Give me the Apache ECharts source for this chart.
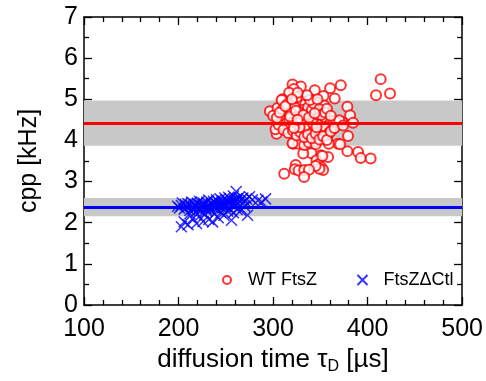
<!DOCTYPE html>
<html>
<head>
<meta charset="utf-8">
<script src="https://cdn.jsdelivr.net/npm/echarts@6/dist/echarts.min.js"></script>
<style>html,body{margin:0;padding:0;background:#fff}#c{width:486px;height:381px}</style>
</head>
<body>
<div id="c"></div>
<script>
// ---- data ----
const xTicks = [100, 200, 300, 400, 500];
const yTicks = [0, 1, 2, 3, 4, 5, 6, 7];
const seriesNames = ['WT FtsZ', 'FtsZ\u0394Ctl'];
// WT FtsZ : [diffusion time (µs), cpp (kHz)]
const wtPoints = [
[413.8,5.49],[408.9,5.10],[423.7,5.14],[371.6,5.34],[360.3,5.27],[344.1,5.22],[320.6,5.36],[329.4,5.31],[322,5.25],[317,5.16],
[353.3,5.08],[365.2,5.02],[310,5.00],[378.6,4.82],[381.5,4.61],[384.6,4.43],[373,4.45],[379.3,4.11],[368.8,3.92],[359,3.92],
[378.6,3.74],[389.9,3.72],[392.7,3.57],[403.2,3.56],[358.2,3.60],[350.5,3.64],[340.6,3.69],[331.9,3.68],[345.9,3.52],[348,3.42],
[351,3.35],[353,3.28],[349,3.31],[345,3.38],[324,3.40],[323,3.30],[327,3.27],[333,3.28],[338,3.29],[311.8,3.19],
[332.8,3.11],[303.7,4.16],[302.6,4.27],[296.6,4.71],[304.7,4.79],[309,4.98],[321.3,3.92],[327,3.92],[333,3.89],[338,3.95],
[346,3.98],[358,4.14],[345.2,3.91],[371,3.91],[352.2,3.62],[320.6,3.93],
[318,4.85],[322,4.92],[326,4.78],[330,4.95],[334,4.88],[338,4.72],[342,4.81],[346,4.93],[350,4.70],[354,4.85],
[312,4.62],[316,4.70],[320,4.55],[324,4.66],[328,4.58],[332,4.69],[336,4.52],[340,4.61],[344,4.48],[348,4.57],
[352,4.43],[356,4.52],[360,4.40],[364,4.47],[368,4.38],[308,4.50],[314,4.42],[319,4.35],[323,4.47],[327,4.40],
[331,4.30],[335,4.44],[339,4.36],[343,4.27],[347,4.39],[351,4.22],[355,4.33],[359,4.18],[363,4.28],[367,4.45],
[306,4.38],[311,4.26],[316,4.18],[321,4.24],[325,4.12],[329,4.20],[333,4.08],[337,4.15],[341,4.05],[345,4.17],
[349,4.02],[353,4.10],[357,4.01],[361,4.22],[365,4.30],[370,4.49],[374,4.36],[310,4.75],[315,4.88],[325,5.05],
[329,4.62],[331,4.74],[333,4.55],[327,4.70],[323,4.80],[319,4.66],[317,4.52],[321,4.45],[325,4.57],[329,4.48],
[335,4.63],[337,4.80],[341,4.74],[343,4.90],[339,4.98],[347,5.00],[349,4.76],[351,4.62],[355,4.68],[357,4.77],
[361,4.60],[300,4.60],[304,4.55],[307,4.68],[313,4.83],[336,5.10],[326,5.16],[320,5.00],[334,4.36],[328,4.32],
[322,4.30],[342,4.42],[346,4.32],[318,4.58],[324,4.72],[330,4.52],[332,4.62],[326,4.50],[338,4.56],[344,4.66]
];
// FtsZΔCtl
const ctlPoints = [
[199,2.40],[201,2.36],[203,2.42],[204,2.48],[206,2.33],[207,2.44],[209,2.38],[210,2.46],[212,2.30],[213,2.41],
[214,2.50],[216,2.36],[217,2.44],[219,2.39],[220,2.47],[221,2.32],[222,2.52],[224,2.42],[225,2.37],[226,2.48],
[227,2.44],[229,2.35],[230,2.50],[231,2.42],[232,2.55],[233,2.39],[235,2.47],[236,2.44],[237,2.52],[238,2.36],
[239,2.49],[240,2.56],[241,2.43],[242,2.51],[243,2.40],[244,2.58],[245,2.46],[246,2.53],[247,2.42],[248,2.49],
[249,2.60],[250,2.45],[251,2.54],[252,2.50],[253,2.62],[254,2.47],[255,2.57],[256,2.52],[257,2.44],[258,2.65],
[259,2.55],[260,2.50],[261,2.76],[262,2.58],[263,2.48],[264,2.62],[266,2.55],[268,2.60],[270,2.52],[272,2.58],
[275,2.63],[278,2.56],[284,2.54],[292,2.58],[288,2.50],
[203,1.90],[210,1.95],[206,2.02],[215,2.10],[219,1.98],[222,2.15],[226,2.03],[228,2.20],[232,2.08],[236,2.02],
[238,2.22],[242,2.12],[245,2.25],[248,2.18],[252,2.28],[256,2.06],[258,2.24],[262,2.32],[266,2.30],[273,2.18],
[270,2.40],[212,2.22],[218,2.26],[224,2.30],[230,2.28],[234,2.32],[240,2.34],[246,2.36],[250,2.38],[254,2.34],[260,2.40]
];
// mean and standard deviation of each population
const wtMean = 4.42, wtSd = 0.55;
const ctlMean = 2.38, ctlSd = 0.22;

// ---- chart ----
const FONT = "'Liberation Sans', Arial, sans-serif";
const chart = echarts.init(document.getElementById('c'), null, {renderer: 'canvas'});
const axisCommon = {
  axisLine: {show: true, onZero: false, lineStyle: {color: '#000', width: 1.5}},
  axisTick: {show: true, inside: true, length: 8, lineStyle: {color: '#000', width: 1.3}},
  minorTick: {show: true, length: 5, lineStyle: {color: '#000', width: 1.3}},
  splitLine: {show: false}
};
const crossPath = 'path://M0,0L10,10M10,0L0,10';
const legendText = {fontFamily: FONT, fontSize: 18, color: '#000', lineHeight: 18};
chart.setOption({
  animation: false,
  backgroundColor: '#fff',
  grid: {left: 84, top: 17, right: 23, bottom: 76, containLabel: false},
  legend: [
    {
      data: [{name: seriesNames[0], icon: 'emptyCircle'}],
      left: 222, top: 271, itemWidth: 8, itemHeight: 8, padding: 0,
      textStyle: Object.assign({}, legendText, {padding: [0, 0, 0, 12]})
    },
    {
      data: [{name: seriesNames[1], icon: crossPath}],
      left: 355, top: 271, itemWidth: 10, itemHeight: 10, padding: 0,
      textStyle: Object.assign({}, legendText, {padding: [0, 0, 0, 11]})
    }
  ],
  xAxis: [
    Object.assign({}, axisCommon, {
      type: 'value', position: 'bottom', min: xTicks[0], max: xTicks[xTicks.length - 1], interval: 100,
      minorTick: Object.assign({}, axisCommon.minorTick, {splitNumber: 5}),
      axisLabel: {fontFamily: FONT, fontSize: 25, color: '#000', margin: 12},
      name: 'diffusion time {t|\u03c4}{s|D} [\u00b5s]', nameLocation: 'middle', nameGap: 38,
      nameTextStyle: {fontFamily: FONT, fontSize: 26, color: '#000',
        rich: {t: {fontFamily: FONT, fontSize: 26, color: '#000'},
               s: {fontFamily: FONT, fontSize: 16, color: '#000', verticalAlign: 'bottom', padding: [13, 0, 0, 0]}}}
    }),
    Object.assign({}, axisCommon, {
      type: 'value', position: 'top', min: xTicks[0], max: xTicks[xTicks.length - 1], interval: 100,
      minorTick: Object.assign({}, axisCommon.minorTick, {splitNumber: 5}),
      axisLabel: {show: false}
    })
  ],
  yAxis: [
    Object.assign({}, axisCommon, {
      type: 'value', position: 'left', min: yTicks[0], max: yTicks[yTicks.length - 1], interval: 1,
      minorTick: Object.assign({}, axisCommon.minorTick, {splitNumber: 2}),
      axisLabel: {fontFamily: FONT, fontSize: 25, color: '#000', margin: 6},
      name: 'cpp [kHz]', nameLocation: 'middle', nameGap: 42, nameRotate: 90,
      nameTextStyle: {fontFamily: FONT, fontSize: 25, color: '#000'}
    }),
    Object.assign({}, axisCommon, {
      type: 'value', position: 'right', min: yTicks[0], max: yTicks[yTicks.length - 1], interval: 1,
      minorTick: Object.assign({}, axisCommon.minorTick, {splitNumber: 2}),
      axisLabel: {show: false}
    })
  ],
  series: [
    {
      name: 'bands', type: 'line', data: [], z: 1, silent: true,
      markArea: {
        silent: true,
        itemStyle: {color: '#c8c8c8'},
        data: [
          [{yAxis: wtMean - wtSd}, {yAxis: wtMean + wtSd}],
          [{yAxis: ctlMean - ctlSd}, {yAxis: ctlMean + ctlSd}]
        ]
      }
    },
    {
      name: 'means', type: 'line', data: [], z: 2, silent: true,
      markLine: {
        silent: true, symbol: ['none', 'none'], label: {show: false},
        data: [
          {yAxis: wtMean, lineStyle: {color: '#ff0000', width: 3, type: 'solid'}},
          {yAxis: ctlMean, lineStyle: {color: '#0000ff', width: 3, type: 'solid'}}
        ]
      }
    },
    {
      name: seriesNames[0], type: 'scatter', data: wtPoints, z: 3,
      symbol: 'emptyCircle', symbolSize: 10,
      itemStyle: {color: '#ff0000', borderColor: '#ff0000', borderWidth: 1.6}
    },
    {
      name: seriesNames[1], type: 'scatter', data: ctlPoints, z: 4,
      symbol: crossPath, symbolSize: 11,
      itemStyle: {color: 'none', borderColor: '#0000ff', borderWidth: 1.5}
    }
  ]
});
</script>
</body>
</html>
